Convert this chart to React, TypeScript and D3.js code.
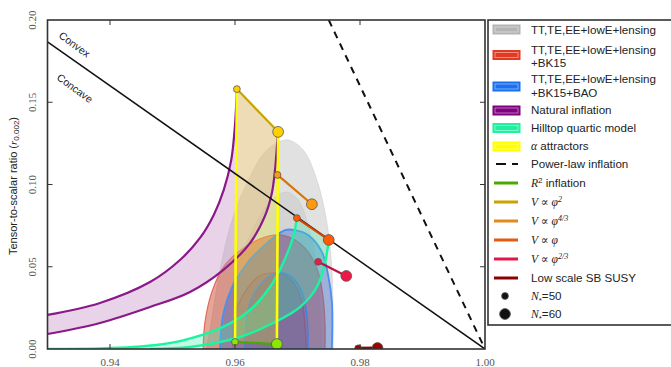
import React from "react";
import * as d3 from "d3";

type P = [number, number];

const xTicks = [0.94, 0.96, 0.98, 1.0];
const yTicks = [0.0, 0.05, 0.1, 0.15, 0.2];

const grayOuter: P[] = [[0.9554, 0], [0.956, 0.0116], [0.9576, 0.048], [0.9597, 0.0802], [0.9624, 0.1046], [0.9651, 0.121], [0.9683, 0.1271], [0.9709, 0.121], [0.9731, 0.1027], [0.9747, 0.0766], [0.9755, 0.048], [0.9757, 0.0116], [0.9757, 0]];
const grayInner: P[] = [[0.9579, 0], [0.9586, 0.0237], [0.9605, 0.0511], [0.9632, 0.0754], [0.9659, 0.0906], [0.9682, 0.0954], [0.9701, 0.0906], [0.9717, 0.0754], [0.973, 0.0511], [0.9736, 0.0237], [0.9738, 0]];
const redOuter: P[] = [[0.9549, 0], [0.9552, 0.0164], [0.9563, 0.0347], [0.9584, 0.0511], [0.9616, 0.062], [0.9648, 0.0681], [0.9675, 0.0693], [0.9696, 0.0663], [0.9717, 0.059], [0.9733, 0.0468], [0.9741, 0.031], [0.9744, 0.0146], [0.9744, 0]];
const redInner: P[] = [[0.9597, 0], [0.96, 0.0207], [0.9616, 0.0347], [0.9637, 0.0438], [0.9659, 0.0462], [0.968, 0.045], [0.9696, 0.0389], [0.9707, 0.0286], [0.9712, 0.0146], [0.9714, 0]];
const blueOuter: P[] = [[0.9576, 0], [0.9581, 0.0207], [0.9595, 0.0371], [0.9621, 0.0529], [0.9653, 0.065], [0.968, 0.0723], [0.9696, 0.0723], [0.9717, 0.0693], [0.9739, 0.059], [0.9749, 0.045], [0.9755, 0.0286], [0.9755, 0]];
const blueInner: P[] = [[0.9616, 0], [0.9619, 0.0207], [0.9632, 0.0347], [0.9653, 0.0438], [0.9675, 0.0462], [0.9691, 0.0438], [0.9707, 0.0347], [0.9715, 0.0207], [0.9717, 0]];

const naturalN50: P[] = [[0.93, 0.0207], [0.9384, 0.028], [0.9464, 0.0407], [0.9512, 0.0541], [0.9544, 0.0675], [0.9566, 0.0815], [0.9582, 0.0967], [0.9594, 0.1149], [0.96, 0.1362], [0.9603, 0.158]];
const naturalN60: P[] = [[0.93, 0.0091], [0.9384, 0.0158], [0.9464, 0.0255], [0.9528, 0.0347], [0.9581, 0.048], [0.9624, 0.0644], [0.9648, 0.0809], [0.9659, 0.0948], [0.9664, 0.1088], [0.9667, 0.1228], [0.9669, 0.132]];

const hilltopN50: P[] = [[0.93, 0.0001], [0.9384, 0.0004], [0.9437, 0.0012], [0.948, 0.0027], [0.9517, 0.0052], [0.9581, 0.0134], [0.9624, 0.0237], [0.9656, 0.0377], [0.9677, 0.0523], [0.9693, 0.0681], [0.9699, 0.0796]];
const hilltopN60: P[] = [[0.9464, 0.0], [0.9528, 0.0012], [0.9608, 0.0073], [0.9661, 0.0158], [0.9704, 0.0255], [0.9731, 0.0377], [0.9744, 0.0523], [0.975, 0.0663]];

const phi2: P[] = [[0.9603, 0.158], [0.9669, 0.132]];
const phi43: P[] = [[0.9668, 0.1058], [0.9723, 0.088]];
const phi1: P[] = [[0.9699, 0.0796], [0.975, 0.0663]];
const phi23: P[] = [[0.9733, 0.053], [0.9778, 0.0444]];
const r2: P[] = [[0.96, 0.0043], [0.9667, 0.003]];
const susy: P[] = [[0.9797, 0.0004], [0.9828, 0.0006]];

const convexLine: P[] = [[0.93, 0.18667], [1.0, 0]];
const powerLaw: P[] = [[0.975, 0.2], [1.0, 0]];

const L = 47.5, R = 485, T = 20, B = 349;
const x = d3.scaleLinear().domain([0.93, 1.0]).range([L, R]);
const y = d3.scaleLinear().domain([0, 0.2]).range([B, T]);

const smooth = d3.line<P>().x(d => x(d[0])).y(d => y(d[1])).curve(d3.curveCatmullRom);
const mono = smooth;
const straight = d3.line<P>().x(d => x(d[0])).y(d => y(d[1]));

const models = [
  { pts: phi2, line: "#c9a400", fill: "#ffd000" },
  { pts: phi43, line: "#d87400", fill: "#ff9a10" },
  { pts: phi1, line: "#d84400", fill: "#ff5a00" },
  { pts: phi23, line: "#c01040", fill: "#ee1848" },
  { pts: r2, line: "#4aa800", fill: "#8ae800" },
  { pts: susy, line: "#8b0000", fill: "#a00000" },
];

const sans = "'Liberation Sans', Arial, sans-serif";
const serif = "'Liberation Serif', 'DejaVu Serif', serif";

function Patch({ yy, color }: { yy: number; color: string }) {
  return (
    <g>
      <rect x={493} y={yy - 4.5} width={27} height={9} fill={color} stroke={color} strokeWidth={1} />
      <rect x={495} y={yy - 2.5} width={23} height={5} fill="none" stroke="rgba(255,255,255,0.55)" strokeWidth={0.8} />
    </g>
  );
}

export default function App() {
  const closed = (p: P[]) => smooth(p)! + "Z";
  const alphaPoly: P[] = [r2[0], phi2[0], phi2[1], r2[1]];
  const n60End = naturalN60[naturalN60.length - 1];
  const h60End = hilltopN60[hilltopN60.length - 1];
  const legendLines = [
    { yy: 183, c: "#4aa800" },
    { yy: 202, c: "#c9a400" },
    { yy: 221, c: "#e08a20" },
    { yy: 240, c: "#e05a10" },
    { yy: 259, c: "#e01848" },
    { yy: 278, c: "#8b0000" },
  ];
  return (
    <svg width={671} height={367} style={{ position: "absolute", left: 0, top: 0, background: "#fff" }}>
      <defs>
        <clipPath id="plot">
          <rect x={L} y={T} width={R - L} height={B - T} />
        </clipPath>
        <mask id="natBand" maskUnits="userSpaceOnUse" x={0} y={0} width={671} height={367}>
          <path d={mono(naturalN50)! + `L${x(n60End[0])},${y(n60End[1])}L${R + 10},${y(n60End[1])}L${R + 10},${B + 10}L${L - 10},${B + 10}L${L - 10},${y(naturalN50[0][1])}Z`} fill="#fff" />
          <path d={mono(naturalN60)! + `L${x(n60End[0])},${T - 10}L${R + 10},${T - 10}L${R + 10},${B + 10}L${L - 10},${B + 10}L${L - 10},${y(naturalN60[0][1])}Z`} fill="#000" />
        </mask>
        <mask id="hillBand" maskUnits="userSpaceOnUse" x={0} y={0} width={671} height={367}>
          <path d={mono(hilltopN50)! + `L${x(h60End[0])},${y(h60End[1])}L${R + 10},${y(h60End[1])}L${R + 10},${B + 10}L${L - 10},${B + 10}Z`} fill="#fff" />
          <path d={mono(hilltopN60)! + `L${x(h60End[0])},${T - 10}L${R + 10},${T - 10}L${R + 10},${B + 10}L${x(hilltopN60[0][0])},${B + 10}Z`} fill="#000" />
        </mask>
      </defs>
      <g clipPath="url(#plot)">
        <path d={closed(grayOuter)} fill="#c8c8c8" fillOpacity={0.55} stroke="#d4d4d4" strokeWidth={0.8} />
        <path d={closed(grayInner)} fill="#b0b0b0" fillOpacity={0.25} stroke="#cacaca" strokeWidth={0.6} />
        <path d={closed(redOuter)} fill="#d04a34" fillOpacity={0.5} stroke="#e06a55" strokeWidth={1.2} />
        <path d={closed(redInner)} fill="#c04030" fillOpacity={0.2} stroke="#e05a48" strokeWidth={1.2} />
        <path d={closed(blueOuter)} fill="#3a6ad0" fillOpacity={0.4} stroke="#4a90f0" strokeWidth={1.8} />
        <path d={closed(blueInner)} fill="#3050b8" fillOpacity={0.18} stroke="#3a80f0" strokeWidth={1.3} />

        <rect x={L} y={T} width={R - L} height={B - T} fill="#c890c8" fillOpacity={0.4} mask="url(#natBand)" />
        <rect x={L} y={T} width={R - L} height={B - T} fill="#40e8a8" fillOpacity={0.3} mask="url(#hillBand)" />
        <path d={straight(alphaPoly)! + "Z"} fill="#ffff00" fillOpacity={0.22} stroke="none" />

        <path d={mono(naturalN50)!} fill="none" stroke="#8a1a8a" strokeWidth={2.2} />
        <path d={mono(naturalN60)!} fill="none" stroke="#8a1a8a" strokeWidth={2.2} />
        <path d={mono(hilltopN50)!} fill="none" stroke="#1af5a0" strokeWidth={2.4} />
        <path d={mono(hilltopN60)!} fill="none" stroke="#1af5a0" strokeWidth={2.4} />
        <path d={straight([r2[0], phi2[0]])!} fill="none" stroke="#ffff00" strokeWidth={2.6} />
        <path d={straight([r2[1], phi2[1]])!} fill="none" stroke="#ffff00" strokeWidth={2.6} />

        <path d={straight(convexLine)!} fill="none" stroke="#111" strokeWidth={1.5} />
        <path d={straight(powerLaw)!} fill="none" stroke="#111" strokeWidth={2} strokeDasharray="7,6" />

        {models.map((m, i) => (
          <g key={i}>
            <path d={straight(m.pts)!} fill="none" stroke={m.line} strokeWidth={i === 5 ? 3 : 2.2} />
            <circle cx={x(m.pts[0][0])} cy={y(m.pts[0][1])} r={3.4} fill={m.fill} stroke="#555" strokeWidth={0.8} />
            <circle cx={x(m.pts[1][0])} cy={y(m.pts[1][1])} r={5.4} fill={m.fill} stroke="#555" strokeWidth={0.8} />
          </g>
        ))}
      </g>

      <text transform="translate(58,37) rotate(36)" fontFamily={sans} fontSize={10.5} fill="#222">Convex</text>
      <text transform="translate(56,79) rotate(36)" fontFamily={sans} fontSize={10.5} fill="#222">Concave</text>

      <rect x={L} y={T} width={R - L} height={B - T} fill="none" stroke="#333" strokeWidth={1.6} />
      {xTicks.slice(0, 3).map(t => (
        <g key={"xt" + t}>
          <line x1={x(t)} x2={x(t)} y1={B} y2={B - 5} stroke="#333" strokeWidth={1} />
          <line x1={x(t)} x2={x(t)} y1={T} y2={T + 5} stroke="#333" strokeWidth={1} />
        </g>
      ))}
      {yTicks.slice(1, 4).map(t => (
        <g key={"yt" + t}>
          <line x1={L} x2={L + 5} y1={y(t)} y2={y(t)} stroke="#333" strokeWidth={1} />
          <line x1={R} x2={R - 5} y1={y(t)} y2={y(t)} stroke="#333" strokeWidth={1} />
        </g>
      ))}
      {xTicks.map(t => (
        <text key={"xl" + t} x={x(t)} y={366} textAnchor="middle" fontFamily={serif} fontSize={11} fill="#555">{t.toFixed(2)}</text>
      ))}
      {yTicks.map(t => (
        <text key={"yl" + t} transform={`translate(36,${y(t)}) rotate(-90)`} textAnchor="middle" fontFamily={serif} fontSize={11} fill="#555">{t.toFixed(2)}</text>
      ))}
      <text transform="translate(17,186) rotate(-90)" textAnchor="middle" fontFamily={sans} fontSize={11} fill="#222">
        Tensor-to-scalar ratio (<tspan fontFamily={serif} fontStyle="italic">r</tspan><tspan fontSize={8} dy={2}>0.002</tspan><tspan dy={-2}>)</tspan>
      </text>

      <rect x={488} y={20} width={200} height={305} fill="#fff" stroke="#333" strokeWidth={1.6} />
      <g fontFamily={sans} fontSize={11.6} fill="#222">
        <Patch yy={29.5} color="#b4b4b4" />
        <text x={531} y={34}>TT,TE,EE+lowE+lensing</text>
        <Patch yy={55} color="#e23a22" />
        <text x={531} y={54}>TT,TE,EE+lowE+lensing</text>
        <text x={531} y={67}>+BK15</text>
        <Patch yy={86.5} color="#1a70f0" />
        <text x={531} y={83}>TT,TE,EE+lowE+lensing</text>
        <text x={531} y={97}>+BK15+BAO</text>
        <Patch yy={110.5} color="#800080" />
        <text x={531} y={114}>Natural inflation</text>
        <Patch yy={128} color="#20f0a0" />
        <text x={531} y={131.5}>Hilltop quartic model</text>
        <Patch yy={146.5} color="#ffff00" />
        <text x={531} y={150}><tspan fontFamily={serif} fontStyle="italic">α</tspan> attractors</text>
        <line x1={496} x2={518} y1={164} y2={164} stroke="#111" strokeWidth={2.2} strokeDasharray="10,6" />
        <text x={531} y={168}>Power-law inflation</text>
        {legendLines.map(l => (
          <line key={l.yy} x1={494} x2={518} y1={l.yy} y2={l.yy} stroke={l.c} strokeWidth={3} />
        ))}
        <text x={531} y={187}><tspan fontFamily={serif} fontStyle="italic">R</tspan><tspan fontSize={8} dy={-4}>2</tspan><tspan dy={4}> inflation</tspan></text>
        <text x={531} y={206} fontFamily={serif} fontStyle="italic">V ∝ φ<tspan fontSize={8} dy={-4}>2</tspan></text>
        <text x={531} y={225} fontFamily={serif} fontStyle="italic">V ∝ φ<tspan fontSize={8} dy={-4}>4/3</tspan></text>
        <text x={531} y={244} fontFamily={serif} fontStyle="italic">V ∝ φ</text>
        <text x={531} y={263} fontFamily={serif} fontStyle="italic">V ∝ φ<tspan fontSize={8} dy={-4}>2/3</tspan></text>
        <text x={531} y={282}>Low scale SB SUSY</text>
        <circle cx={505} cy={296} r={3.4} fill="#111" stroke="#555" strokeWidth={0.8} />
        <circle cx={505} cy={314} r={5.4} fill="#111" stroke="#555" strokeWidth={0.8} />
        <text x={531} y={300}><tspan fontFamily={serif} fontStyle="italic">N</tspan><tspan fontSize={8} dy={3}>*</tspan><tspan dy={-3}>=50</tspan></text>
        <text x={531} y={318}><tspan fontFamily={serif} fontStyle="italic">N</tspan><tspan fontSize={8} dy={3}>*</tspan><tspan dy={-3}>=60</tspan></text>
      </g>
    </svg>
  );
}
